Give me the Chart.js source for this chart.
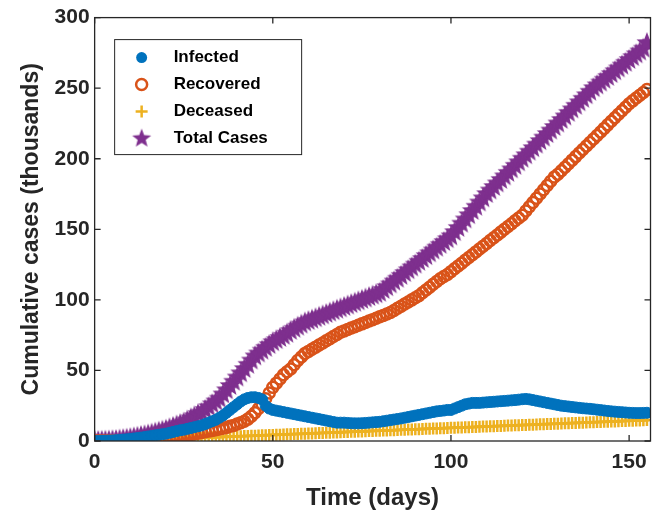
<!DOCTYPE html><html><head><script src="https://cdn.jsdelivr.net/npm/chart.js"></script>
<style>body{margin:0;background:#fff}#w{width:659px;height:515px}</style></head><body><div id="w"><canvas id="c"></canvas></div>
<script>
const days=[...Array(156).keys()];
const total=[0,0,0.1,0.2,0.3,0.5,0.7,1,1.3,1.6,2,2.5,3,3.5,4,4.6,5.2,5.9,6.6,7.3,8,9,10,11,12,13,14.5,16,17.5,19,20,22,24,26,28,30,33,36,39,42,45,48,51,54,57,60,62,64,66,68,70,71.5,73,74.5,76,78,79.5,81,82.5,84,85,86,87,88,89,90,91,92,93,94,95,96,97,98,99,100,101,102,103,104,105,107,109,111,113,115,117,119,121,123,125,127,129,131,133,135,137,139,141,143,145,148,151,154,157,160,163,166,169,172,175,177.5,180,182.5,185,187.5,190,192.5,195,197.5,200,202.5,205,207.5,210,212.5,215,217.5,220,222.5,225,227.5,230,232.5,235,237.5,240,242.5,245,247.5,250,252,254,256,258,260,262,264,266,268,270,272,274,276,278,282];
const recovered=[0,0,0,0,0,0,0,0,0,0,0,0,0.1,0.2,0.3,0.5,0.7,0.9,1.2,1.5,2,2.3,2.6,3,3.4,3.8,4.2,4.6,5,5.5,6,6.5,7,7.5,8,8.5,9,9.5,10.5,11,12,13,14,15.5,17.5,20,23,26,30,34,38,41,44,47,49,51,54,57,59.5,62,63.5,65,66.5,68,69.5,71,72.5,74,75.5,77,78,79,80,81,82,83,84,85,86,87,88,89,90,91,92.5,94,95.5,97,98.5,100,101.5,103,105,107,109,111,113,115,116.5,118,120,122,124,126,128,130,132,134,136,138,140,142,144,146,148,150,152,154,156,158,160,163,166,169,172,175,178,181,184,187,189,191.5,194,196.5,199,201.5,204,206.5,209,211.5,214,216.5,219,221.5,224,226.5,229,231.5,234,236.5,239,241,243,245,247,249];
const deceased=[0,0,0,0,0,0,0.1,0.1,0.2,0.2,0.3,0.4,0.5,0.6,0.7,0.8,0.9,1.0,1.1,1.2,1.3,1.4,1.5,1.6,1.7,1.8,1.9,2.0,2.1,2.2,2.3,2.4,2.5,2.6,2.7,2.8,2.9,3.0,3.1,3.2,3.3,3.4,3.5,3.6,3.7,3.8,3.9,4.0,4.1,4.2,4.3,4.4,4.5,4.6,4.7,4.8,4.9,5.0,5.1,5.2,5.3,5.4,5.5,5.6,5.7,5.8,5.9,6.0,6.1,6.2,6.3,6.4,6.5,6.6,6.7,6.8,6.9,7.0,7.1,7.2,7.3,7.4,7.5,7.6,7.7,7.8,7.9,8.0,8.1,8.2,8.3,8.4,8.5,8.6,8.7,8.8,8.9,9.0,9.1,9.2,9.3,9.4,9.5,9.6,9.7,9.8,9.9,10.0,10.1,10.2,10.3,10.4,10.5,10.6,10.7,10.8,10.9,11.0,11.1,11.2,11.3,11.4,11.5,11.6,11.7,11.8,11.9,12.0,12.1,12.2,12.3,12.4,12.5,12.6,12.7,12.8,12.9,13.0,13.1,13.2,13.3,13.4,13.5,13.6,13.7,13.8,13.9,14.0,14.1,14.2,14.3,14.4,14.5,14.6,14.7,14.8];
const infected=[0,0,0.1,0.2,0.3,0.4,0.6,0.8,1,1.2,1.5,1.8,2.1,2.4,2.8,3.2,3.6,4,4.4,4.8,5.2,5.8,6.4,7,7.6,8,8.6,9.2,9.8,10.4,11,12,13,14,15,16.5,18,20,22,24,26,28,29.5,30.5,31,31,30.5,29.5,25,23,22,21.5,21,20.5,20,19.5,19,18.5,18,17.5,17,16.5,16,15.5,15,14.5,14,13.5,13,13,13,12.8,12.6,12.5,12.5,12.6,12.8,13,13.2,13.4,13.6,14,14.4,14.8,15.2,15.6,16,16.5,17,17.5,18,18.5,19,19.5,20,20.5,21,21.3,21.6,22,22,23,24,25,26,26.5,27,27,27,27.2,27.4,27.6,27.8,28,28.2,28.4,28.6,28.8,29,29.3,29.6,29.8,29.5,29,28.5,28,27.5,27,26.5,26,25.5,25,24.7,24.4,24.1,23.8,23.5,23.2,23,22.8,22.5,22.2,21.9,21.6,21.3,21,20.8,20.6,20.4,20.2,20,19.9,19.8,19.8,19.9,20];
const yTicks=[0,50,100,150,200,250,300], xTicks=[0,50,100,150];
const C={inf:'#0072BD',rec:'#D95319',dec:'#EDB120',tot:'#7E2F8E'};
function starImg(r,col){const c=document.createElement('canvas');c.width=c.height=2*r+2;const g=c.getContext('2d');g.fillStyle=col;g.beginPath();for(let i=0;i<10;i++){const a=-Math.PI/2+i*Math.PI/5,rr=i%2?r*0.42:r;g.lineTo(r+1+rr*Math.cos(a),r+1+rr*Math.sin(a));}g.closePath();g.fill();return c;}
const star=starImg(11,C.tot), starL=starImg(10,C.tot);
const mk=(a)=>a.map((v,i)=>({x:days[i],y:v}));
const ds=[
{label:'Infected',data:mk(infected),pointStyle:'circle',pointRadius:5.5,backgroundColor:C.inf,borderColor:C.inf,showLine:false},
{label:'Recovered',data:mk(recovered),pointStyle:'circle',pointRadius:5.5,backgroundColor:'rgba(0,0,0,0)',borderColor:C.rec,pointBorderWidth:2.5,showLine:false},
{label:'Deceased',data:mk(deceased),pointStyle:'cross',pointRadius:6,backgroundColor:C.dec,borderColor:C.dec,pointBorderWidth:2.5,showLine:false},
{label:'Total Cases',data:mk(total),pointStyle:star,backgroundColor:C.tot,borderColor:C.tot,showLine:false}];
const frame={id:'frame',afterDraw(ch){const {ctx,chartArea:a}=ch;ctx.save();ctx.strokeStyle='#262626';ctx.lineWidth=1.3;ctx.strokeRect(a.left,a.top,a.right-a.left,a.bottom-a.top);
const sx=ch.scales.x,sy=ch.scales.y;ctx.beginPath();xTicks.forEach(t=>{const p=sx.getPixelForValue(t);ctx.moveTo(p,a.bottom);ctx.lineTo(p,a.bottom-6);ctx.moveTo(p,a.top);ctx.lineTo(p,a.top+6);});
yTicks.forEach(t=>{const p=sy.getPixelForValue(t);ctx.moveTo(a.left,p);ctx.lineTo(a.left+6,p);ctx.moveTo(a.right,p);ctx.lineTo(a.right-6,p);});ctx.stroke();
const lx=a.left+20,ly=a.top+22,w=187,h=115;ctx.fillStyle='#fff';ctx.fillRect(lx,ly,w,h);ctx.strokeStyle='#262626';ctx.lineWidth=1;ctx.strokeRect(lx,ly,w,h);
ctx.font='bold 17px Arial, "Liberation Sans", sans-serif';ctx.textBaseline='middle';
ds.forEach((d,i)=>{const y=ly+18+i*27,mx=lx+27;ctx.fillStyle='#000';ctx.fillText(d.label,lx+59,y);
if(i==0){ctx.fillStyle=C.inf;ctx.beginPath();ctx.arc(mx,y,5.5,0,7);ctx.fill();}
else if(i==1){ctx.strokeStyle=C.rec;ctx.lineWidth=2.5;ctx.beginPath();ctx.arc(mx,y,5.5,0,7);ctx.stroke();}
else if(i==2){ctx.strokeStyle=C.dec;ctx.lineWidth=2.5;ctx.beginPath();ctx.moveTo(mx-6,y);ctx.lineTo(mx+6,y);ctx.moveTo(mx,y-6);ctx.lineTo(mx,y+6);ctx.stroke();}
else ctx.drawImage(starL,mx-11,y-11);});
ctx.restore();}};
const F={family:'Arial, "Liberation Sans", sans-serif',weight:'bold'};
new Chart(document.getElementById('c'),{type:'scatter',data:{datasets:ds},plugins:[frame],
options:{responsive:true,maintainAspectRatio:false,animation:false,layout:{padding:{top:17,right:3,left:14,bottom:2}},
plugins:{legend:{display:false},tooltip:{enabled:false}},
scales:{x:{type:'linear',min:0,max:156,afterBuildTicks(s){s.ticks=xTicks.map(v=>({value:v}));},grid:{display:false,drawTicks:false},border:{display:false},ticks:{color:'#262626',font:{...F,size:21},padding:9},
title:{display:true,text:'Time (days)',color:'#262626',font:{...F,size:24},padding:{top:0,bottom:0}}},
y:{min:0,max:300,afterBuildTicks(s){s.ticks=yTicks.map(v=>({value:v}));},grid:{display:false,drawTicks:false},border:{display:false},ticks:{color:'#262626',font:{...F,size:21},padding:5},
title:{display:true,text:'Cumulative cases (thousands)',color:'#262626',font:{...F,size:23},padding:{bottom:4}}}}}});
</script></body></html>
